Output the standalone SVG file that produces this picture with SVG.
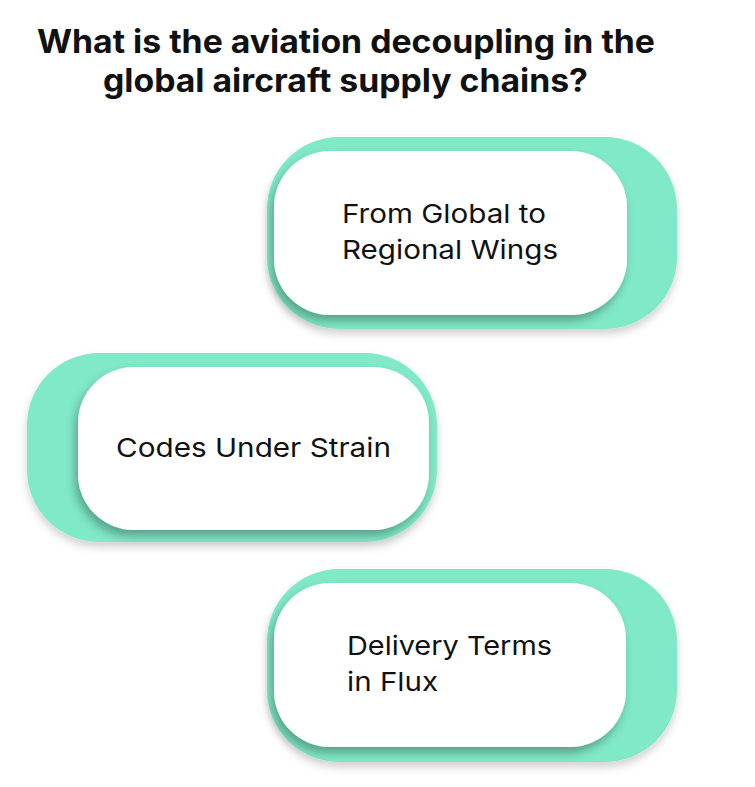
<svg xmlns="http://www.w3.org/2000/svg" width="755" height="787" viewBox="0 0 755 787">
<defs>
<filter id="sh" x="-20%" y="-20%" width="140%" height="150%">
<feDropShadow dx="-3" dy="6" stdDeviation="5" flood-color="#000" flood-opacity="0.3"/>
</filter>
<filter id="sh2" x="-20%" y="-20%" width="140%" height="150%">
<feDropShadow dx="0" dy="5" stdDeviation="4" flood-color="#000" flood-opacity="0.18"/>
</filter>
<style>
.g{fill:#80E9C7;}
.w{fill:#ffffff;}
.t{font-family:Inter,"Liberation Sans",sans-serif;font-size:26px;fill:#111;}
.h{font-family:Inter,"Liberation Sans",sans-serif;font-size:32px;font-weight:700;fill:#111;}
</style>
</defs>
<rect width="755" height="787" fill="#ffffff"/>
<g id="title">
<text class="h" x="37" y="53" textLength="618" lengthAdjust="spacingAndGlyphs">What is the aviation decoupling in the</text>
<text class="h" x="103" y="92" textLength="485" lengthAdjust="spacingAndGlyphs">global aircraft supply chains?</text>
</g>
<g id="node1">
<rect class="g" x="267" y="137" width="410" height="192" rx="72" filter="url(#sh2)"/>
<rect class="w" x="274" y="151" width="353" height="164" rx="56" filter="url(#sh)"/>
<text class="t" x="342" y="223" textLength="204" lengthAdjust="spacingAndGlyphs">From Global to</text>
<text class="t" x="342" y="259" textLength="216" lengthAdjust="spacingAndGlyphs">Regional Wings</text>
</g>
<g id="node2">
<rect class="g" x="27" y="353" width="410" height="189" rx="72" filter="url(#sh2)"/>
<rect class="w" x="78" y="367" width="351" height="163" rx="56" filter="url(#sh)"/>
<text class="t" x="116" y="457" textLength="275" lengthAdjust="spacingAndGlyphs">Codes Under Strain</text>
</g>
<g id="node3">
<rect class="g" x="267" y="569" width="410" height="193" rx="72" filter="url(#sh2)"/>
<rect class="w" x="274" y="583" width="352" height="164" rx="56" filter="url(#sh)"/>
<text class="t" x="347" y="655" textLength="205" lengthAdjust="spacingAndGlyphs">Delivery Terms</text>
<text class="t" x="347" y="691" textLength="91" lengthAdjust="spacingAndGlyphs">in Flux</text>
</g>
<g id="connectors"></g>
</svg>
